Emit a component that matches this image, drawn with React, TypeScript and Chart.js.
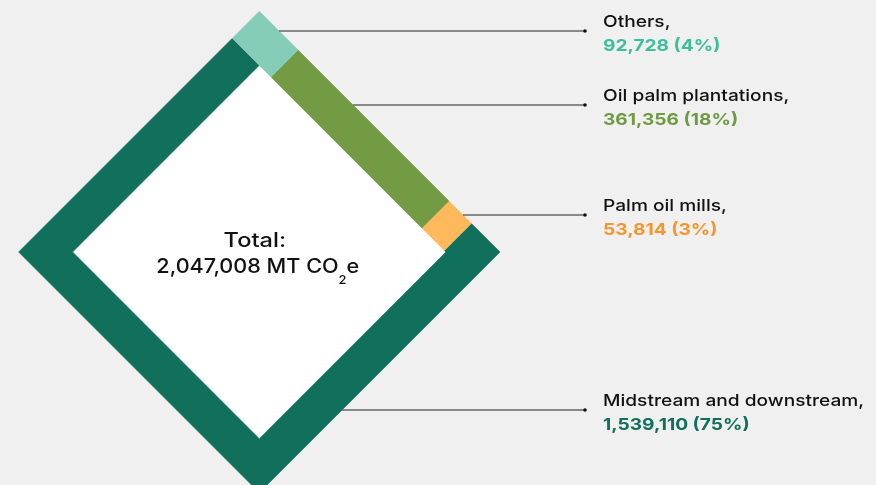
import React, { useEffect, useRef } from 'react';
import { Chart, registerables } from 'chart.js';

Chart.register(...registerables);

// ---- data ----
const categories = ['Others', 'Oil palm plantations', 'Palm oil mills', 'Midstream and downstream'];
const values = [92728, 361356, 53814, 1539110];
const percentLabels = ['4%', '18%', '3%', '75%'];
const totalValue = 2047008;
const totalPrefix = 'Total:';
const unitMain = 'MT CO';
const unitSub = '2';
const unitTail = 'e';

// ---- styles ----
const segmentColors = ['#86cdb9', '#739b43', '#fdb95c', '#10705b'];
const valueColors = ['#3dbd9c', '#6f9a44', '#f7952b', '#10705b'];
const labelLineY = [31, 105, 215, 410];
const FONT = 'Inter, "Noto Sans", sans-serif';
const STRETCH = 1.16;

// ---- geometry (layout) ----
const CX = 259.3;
const CY = 252;
const R = 240.7; // outer half diagonal
const W = 38.2; // frame thickness
const SQ2 = Math.SQRT2;
const S = R * SQ2;
const L = S - W;
const TOP = CY - R;
const LABEL_X = 603;
const LINE_END_X = 585;

type P = { x: number; y: number };
const toXY = (u: number, v: number): P => ({ x: CX + (u - v) / SQ2, y: TOP + (u + v) / SQ2 });

const outerAt = (b: number, t: number): [number, number] =>
  b === 0 ? [t, 0] : b === 1 ? [S, t] : b === 2 ? [S - t, S] : [0, S - t];
const innerAt = (b: number, t: number): [number, number] =>
  b === 0 ? [t, W] : b === 1 ? [S - W, t] : b === 2 ? [S - t, S - W] : [W, S - t];
const outerCorners: [number, number][] = [[S, 0], [S, S], [0, S], [0, 0]];
const innerCorners: [number, number][] = [[S - W, W], [S - W, S - W], [W, S - W], [W, W]];

function locate(p: number, isEnd: boolean) {
  let band = Math.floor(p / L + 1e-9);
  let t = p - band * L;
  if (isEnd && t < 1e-6 && band > 0) {
    band -= 1;
    t = L;
  }
  if (band > 3) {
    band = 3;
    t = L;
  }
  if (t < 0) t = 0;
  return { band, t };
}

function segmentPolygon(p0: number, p1: number): P[] {
  const a = locate(p0, false);
  const b = locate(p1, true);
  const outer = [outerAt(a.band, a.t)];
  const inner = [innerAt(a.band, a.t)];
  for (let k = a.band; k < b.band; k++) {
    outer.push(outerCorners[k]);
    inner.push(innerCorners[k]);
  }
  outer.push(outerAt(b.band, b.t));
  inner.push(innerAt(b.band, b.t));
  const pts = [...outer, ...inner.reverse()];
  pts.push(pts[0]);
  return pts.map(([u, v]) => toXY(u, v));
}

function edgeX(y: number) {
  return y <= CY ? CX + (y - TOP) : CX + (CY + R - y);
}

const fmt = (n: number) => n.toLocaleString('en-US');

function stretchText(ctx: CanvasRenderingContext2D, text: string, x: number, y: number, sx: number) {
  ctx.save();
  ctx.translate(x, y);
  ctx.scale(sx, 1);
  ctx.fillText(text, 0, 0);
  ctx.restore();
}

export default function App() {
  const ref = useRef<HTMLCanvasElement>(null);
  useEffect(() => {
    const canvas = ref.current;
    if (!canvas) return;
    const sum = values.reduce((a, b) => a + b, 0);
    let cum = 0;
    const polys = values.map((v) => {
      const p0 = (cum / sum) * 4 * L;
      cum += v;
      const p1 = (cum / sum) * 4 * L;
      return segmentPolygon(p0, p1);
    });
    const innerPoly = [...innerCorners, innerCorners[0]].map(([u, v]) => toXY(u, v));

    const segDatasets = categories.map((c, i) => ({
      label: c,
      data: polys[i],
      showLine: true,
      fill: 'shape',
      backgroundColor: segmentColors[i],
      borderColor: segmentColors[i],
      borderWidth: 0.6,
      pointRadius: 0,
      tension: 0,
    }));
    const innerDataset = {
      label: 'inner',
      data: innerPoly,
      showLine: true,
      fill: 'shape',
      backgroundColor: '#ffffff',
      borderColor: '#ffffff',
      borderWidth: 0,
      pointRadius: 0,
      tension: 0,
    };
    const leaderDatasets = categories.map((c, i) => ({
      label: c + ' leader',
      data: [
        { x: edgeX(labelLineY[i]), y: labelLineY[i] },
        { x: LINE_END_X, y: labelLineY[i] },
      ],
      showLine: true,
      fill: false,
      borderColor: '#666666',
      borderWidth: 1.5,
      pointRadius: [0, 1.8],
      pointBackgroundColor: '#111111',
      pointBorderWidth: 0,
      tension: 0,
    }));

    const textPlugin = {
      id: 'texts',
      afterDraw(chart: any) {
        const ctx = chart.ctx as CanvasRenderingContext2D;
        const xs = chart.scales.x;
        const ys = chart.scales.y;
        ctx.save();
        ctx.textBaseline = 'alphabetic';
        ctx.textAlign = 'left';
        categories.forEach((c, i) => {
          const x = xs.getPixelForValue(LABEL_X);
          const y = ys.getPixelForValue(labelLineY[i]);
          ctx.font = `500 16.5px ${FONT}`;
          ctx.fillStyle = '#111111';
          stretchText(ctx, c + ',', x, y - 4, STRETCH);
          ctx.font = `700 16.5px ${FONT}`;
          ctx.fillStyle = valueColors[i];
          stretchText(ctx, `${fmt(values[i])} (${percentLabels[i]})`, x, y + 20, STRETCH);
        });
        // center text
        const cx = xs.getPixelForValue(CX) - 1.5;
        const cy = ys.getPixelForValue(CY);
        const sx = 1.08;
        const sxT = 1.18;
        ctx.fillStyle = '#111111';
        ctx.font = `500 20px ${FONT}`;
        const wT = ctx.measureText(totalPrefix).width * sxT;
        stretchText(ctx, totalPrefix, cx - 3 - wT / 2, cy - 5, sxT);
        const main = `${fmt(totalValue)} ${unitMain}`;
        const w1 = ctx.measureText(main).width * sx;
        const w3 = ctx.measureText(unitTail).width * sx;
        ctx.font = `500 12px ${FONT}`;
        const w2 = ctx.measureText(unitSub).width * sx;
        const total = w1 + w2 + w3;
        let x = cx - total / 2;
        ctx.font = `500 20px ${FONT}`;
        stretchText(ctx, main, x, cy + 21, sx);
        x += w1;
        ctx.font = `500 12px ${FONT}`;
        stretchText(ctx, unitSub, x, cy + 32, sx);
        x += w2;
        ctx.font = `500 20px ${FONT}`;
        stretchText(ctx, unitTail, x, cy + 21, sx);
        ctx.restore();
      },
    };

    const chart = new Chart(canvas, {
      type: 'scatter',
      data: { datasets: [...leaderDatasets, ...segDatasets, innerDataset] as any },
      options: {
        animation: false,
        responsive: false,
        devicePixelRatio: 1,
        layout: { padding: 0, autoPadding: false },
        plugins: { legend: { display: false }, tooltip: { enabled: false } },
        events: [],
        scales: {
          x: { type: 'linear', min: 0, max: 876, display: false },
          y: { type: 'linear', min: 0, max: 485, reverse: true, display: false },
        },
      },
      plugins: [textPlugin],
    });
    return () => chart.destroy();
  }, []);

  return (
    <div style={{ position: 'fixed', left: 0, top: 0, width: 876, height: 485, background: '#f0f0f0' }}>
      <canvas ref={ref} width={876} height={485} style={{ display: 'block' }} />
    </div>
  );
}
